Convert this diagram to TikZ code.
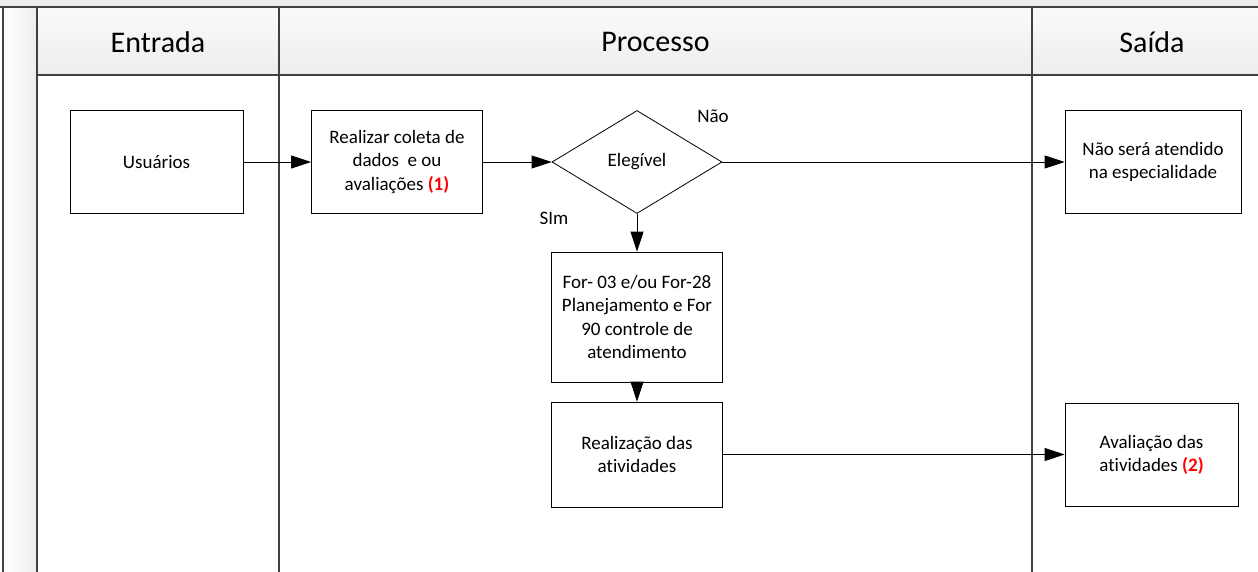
\documentclass[tikz,border=0pt]{standalone}
\usepackage{fontspec}
\setmainfont{Carlito}[Ligatures=NoCommon]
\usetikzlibrary{arrows.meta,shapes.geometric}
\definecolor{laneline}{HTML}{404040}
\definecolor{headtop}{HTML}{FAFAFA}
\definecolor{headbot}{HTML}{EDEDED}
\definecolor{note}{HTML}{FF0000}
\tikzset{
  lane/.style={draw=laneline, line width=2pt},
  stepbox/.style={draw=black, line width=0.8pt, fill=white, align=center,
    font=\fontsize{19}{23.3}\selectfont, inner sep=0pt},
  decision/.style={draw=black, line width=0.8pt, fill=white, diamond,
    aspect=1.65, inner sep=0pt, font=\fontsize{19}{23.3}\selectfont},
  flow/.style={draw=black, line width=0.9pt, -{Triangle[length=20pt,width=13pt]}},
  headtext/.style={font=\fontsize{30}{36}\selectfont},
  tag/.style={font=\fontsize{19}{23.3}\selectfont},
}
\newcommand{\rednote}[1]{\textcolor{note}{\textbf{#1}}}
\begin{document}
\begin{tikzpicture}[x=1pt,y=-1pt]
\useasboundingbox (0,0) rectangle (1258,572);
\clip (0,0) rectangle (1258,572);
% pool frame and header band
\fill[headbot] (0,-5) rectangle (1280,7);
\shade[left color=white, right color=headbot] (3,7) rectangle (37,580);
\shade[top color=headtop, bottom color=headbot] (37,7) rectangle (1280,75);
\draw[lane] (-5,7) -- (1280,7);
\draw[lane] (37,75) -- (1280,75);
\draw[lane] (3,7) -- (3,580);
\draw[lane] (37,7) -- (37,580);
\draw[lane] (279,7) -- (279,580);
\draw[lane] (1032,7) -- (1032,580);
% lane titles
\node[headtext] (hin) at (158,42) {Entrada};
\node[headtext] (hproc) at (655.5,42) {Processo};
\node[headtext] (hout) at (1152,42) {Saída};
% steps
\node[stepbox, minimum width=173pt, minimum height=103pt] (users) at (156.5,162) {Usuários};
\node[stepbox, minimum width=171pt, minimum height=103pt] (collect) at (397,162)
  {Realizar coleta de\\dados \ e ou\\avaliações \rednote{(1)}};
\node[decision, minimum width=170pt, minimum height=103pt] (elig) at (637,162) {Elegível};
\node[stepbox, minimum width=176pt, minimum height=103pt] (deny) at (1153,162)
  {Não será atendido\\na especialidade};
\node[stepbox, minimum width=171pt, minimum height=130pt] (plan) at (637,317)
  {For- 03 e/ou For-28\\Planejamento e For\\90 controle de\\atendimento};
\node[stepbox, minimum width=171pt, minimum height=105pt] (run) at (637,454.5)
  {Realização das\\atividades};
\node[stepbox, minimum width=173pt, minimum height=103pt] (eval) at (1151.5,454.5)
  {Avaliação das\\atividades \rednote{(2)}};
% branch labels
\node[tag] (no) at (713,116) {Não};
\node[tag] (yes) at (554,218) {SIm};
% connectors
\draw[flow] (users) -- (collect);
\draw[flow] (collect) -- (elig);
\draw[flow] (elig.east) -- (deny);
\draw[flow] (elig.south) -- (plan);
\draw[flow] (plan) -- (run);
\draw[flow] (run) -- (eval);
\end{tikzpicture}
\end{document}
